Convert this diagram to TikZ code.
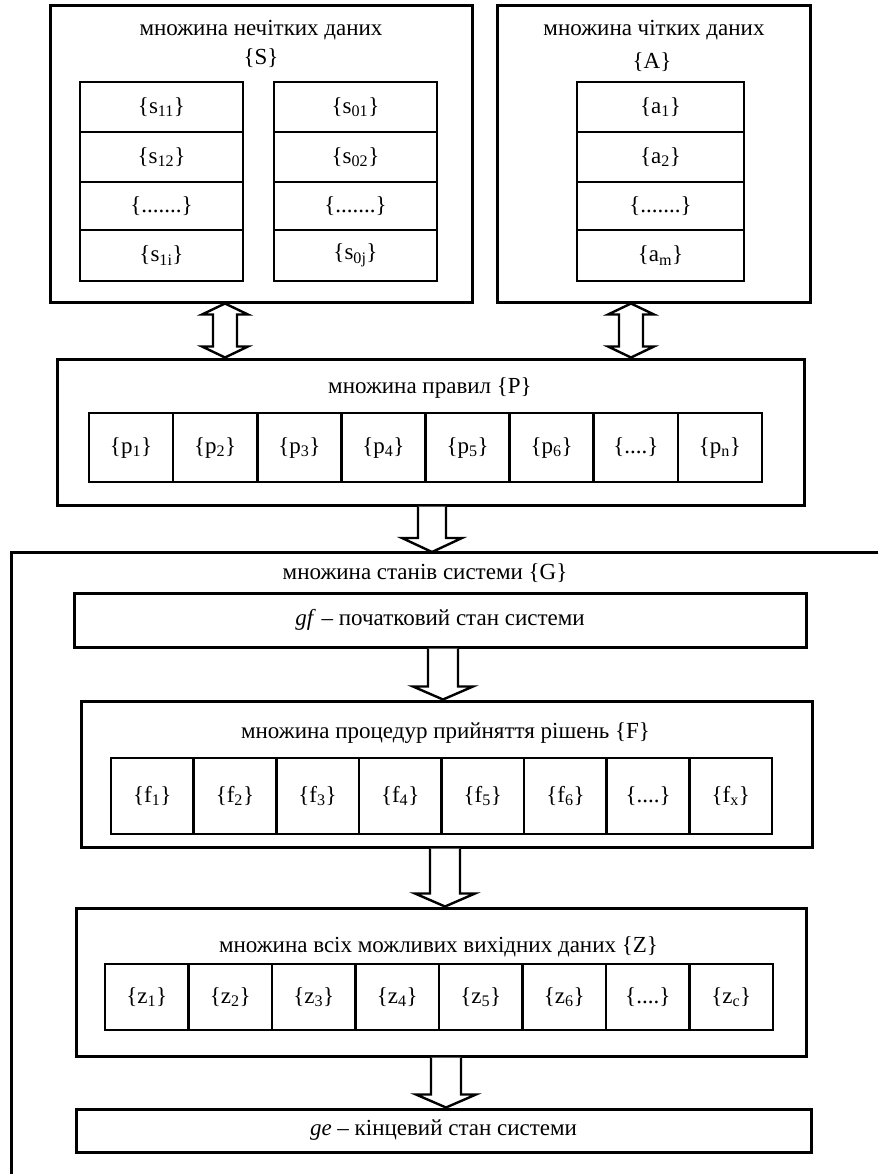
\documentclass[tikz,border=0pt]{standalone}
\usepackage{fontspec}
\setmainfont{Liberation Serif}
\usetikzlibrary{calc}
\tikzset{
  frame/.style={draw, line width=3pt, inner sep=0pt, fill=white},
  cell/.style={draw, line width=2.6pt, inner sep=0pt},
  lbl/.style={inner sep=0pt},
  blockarr/.style={draw, line width=2.4pt, line join=miter, fill=white},
}
\newcommand\blockdown[5]{\draw[blockarr] ($(#1)+(-#3,0)$) -- ($(#2)+(-#3,-#5)$) -- ($(#2)+(-#4,-#5)$) -- (#2) -- ($(#2)+(#4,-#5)$) -- ($(#2)+(#3,-#5)$) -- ($(#1)+(#3,0)$);}
\newcommand\blockboth[5]{\draw[blockarr] (#1) -- ($(#1)+(#4,#5)$) -- ($(#1)+(#3,#5)$) -- ($(#2)+(#3,-#5)$) -- ($(#2)+(#4,-#5)$) -- (#2) -- ($(#2)+(-#4,-#5)$) -- ($(#2)+(-#3,-#5)$) -- ($(#1)+(-#3,#5)$) -- ($(#1)+(-#4,#5)$) -- cycle;}
\begin{document}
\begin{tikzpicture}[x=1pt,y=-1pt, every node/.append style={font=\fontsize{23}{27}\selectfont}]
\useasboundingbox[fill=white] (0,0) rectangle (878,1174);

% ---- set S
\node[frame, minimum width=422, minimum height=296] (S) at (261,154) {};
\node[lbl] (Stitle) at (261,30) {множина нечітких даних};
\node[lbl] (Sname) at (261,58) {\{S\}};
\node[cell, minimum width=163, minimum height=50] (s11) at (161.5,107) {\{s\textsubscript{11}\}};
\node[cell, minimum width=163, minimum height=50] (s12) at (161.5,157) {\{s\textsubscript{12}\}};
\node[cell, minimum width=163, minimum height=48] (s1d) at (161.5,206) {\{.......\}};
\node[cell, minimum width=163, minimum height=51] (s1i) at (161.5,255.5) {\{s\textsubscript{1i}\}};
\node[cell, minimum width=163, minimum height=50] (s01) at (355.5,107) {\{s\textsubscript{01}\}};
\node[cell, minimum width=163, minimum height=50] (s02) at (355.5,157) {\{s\textsubscript{02}\}};
\node[cell, minimum width=163, minimum height=48] (s0d) at (355.5,206) {\{.......\}};
\node[cell, minimum width=163, minimum height=51] (s0j) at (355.5,255.5) {\{s\textsubscript{0j}\}};

% ---- set A
\node[frame, minimum width=313, minimum height=296] (A) at (653.5,154) {};
\node[lbl] (Atitle) at (654,30) {множина чітких даних};
\node[lbl] (Aname) at (652,62) {\{A\}};
\node[cell, minimum width=167, minimum height=50] (a1) at (660.5,107) {\{a\textsubscript{1}\}};
\node[cell, minimum width=167, minimum height=50] (a2) at (660.5,157) {\{a\textsubscript{2}\}};
\node[cell, minimum width=167, minimum height=48] (ad) at (660.5,206) {\{.......\}};
\node[cell, minimum width=167, minimum height=51] (am) at (660.5,255.5) {\{a\textsubscript{m}\}};

% ---- set P
\node[frame, minimum width=747, minimum height=146] (P) at (430.5,432) {};
\node[lbl] (Ptitle) at (430,388) {множина правил \{P\}};
\foreach \i/\t in {1/{\{p\textsubscript{1}\}},2/{\{p\textsubscript{2}\}},3/{\{p\textsubscript{3}\}},4/{\{p\textsubscript{4}\}},5/{\{p\textsubscript{5}\}},6/{\{p\textsubscript{6}\}},7/{\{....\}},8/{\{p\textsubscript{n}\}}}
  \node[cell, minimum width=84.125, minimum height=69] (p\i) at ({89+84.125*(\i-0.5)},447.5) {\t};

% ---- double arrows
\coordinate (cl) at (225,0);
\coordinate (cr) at (631,0);
\blockboth{cl |- S.south}{cl |- P.north}{12}{23}{11}
\blockboth{cr |- A.south}{cr |- P.north}{12}{23}{11}

% ---- set G frame
\coordinate (Gtl) at (11,552);
\draw[line width=3pt] (878,552) -- (Gtl) -- (11,1174);
\node[lbl] (Gtitle) at (425,573) {множина станів системи \{G\}};
\node[frame, minimum width=732, minimum height=54] (gf) at (440,620) {\textit{gf} – початковий стан системи};

% ---- set F
\node[frame, minimum width=731, minimum height=146] (F) at (446.5,774) {};
\node[lbl] (Ftitle) at (445.5,733) {множина процедур прийняття рішень \{F\}};
\foreach \i/\t in {1/{\{f\textsubscript{1}\}},2/{\{f\textsubscript{2}\}},3/{\{f\textsubscript{3}\}},4/{\{f\textsubscript{4}\}},5/{\{f\textsubscript{5}\}},6/{\{f\textsubscript{6}\}},7/{\{....\}},8/{\{f\textsubscript{x}\}}}
  \node[cell, minimum width=82.625, minimum height=76] (f\i) at ({111+82.625*(\i-0.5)},796) {\t};

% ---- set Z
\node[frame, minimum width=730, minimum height=148] (Z) at (441,982) {};
\node[lbl] (Ztitle) at (438.5,947) {множина всіх можливих вихідних даних \{Z\}};
\foreach \i/\t in {1/{\{z\textsubscript{1}\}},2/{\{z\textsubscript{2}\}},3/{\{z\textsubscript{3}\}},4/{\{z\textsubscript{4}\}},5/{\{z\textsubscript{5}\}},6/{\{z\textsubscript{6}\}},7/{\{....\}},8/{\{z\textsubscript{c}\}}}
  \node[cell, minimum width=83.5, minimum height=66] (z\i) at ({105+83.5*(\i-0.5)},997) {\t};

% ---- final state
\node[frame, minimum width=735, minimum height=43] (ge) at (443.5,1130.5) {\textit{ge} – кінцевий стан системи};

% ---- down arrows
\coordinate (c1) at (432,0);
\coordinate (c2) at (443,0);
\coordinate (c3) at (445,0);
\coordinate (c4) at (446,0);
\blockdown{c1 |- P.south}{c1 |- Gtl}{14}{30}{14}
\blockdown{c2 |- gf.south}{c2 |- F.north}{15}{30}{13}
\blockdown{c3 |- F.south}{c3 |- Z.north}{15}{30}{13}
\blockdown{c4 |- Z.south}{c4 |- ge.north}{15}{30}{13}
\end{tikzpicture}
\end{document}
